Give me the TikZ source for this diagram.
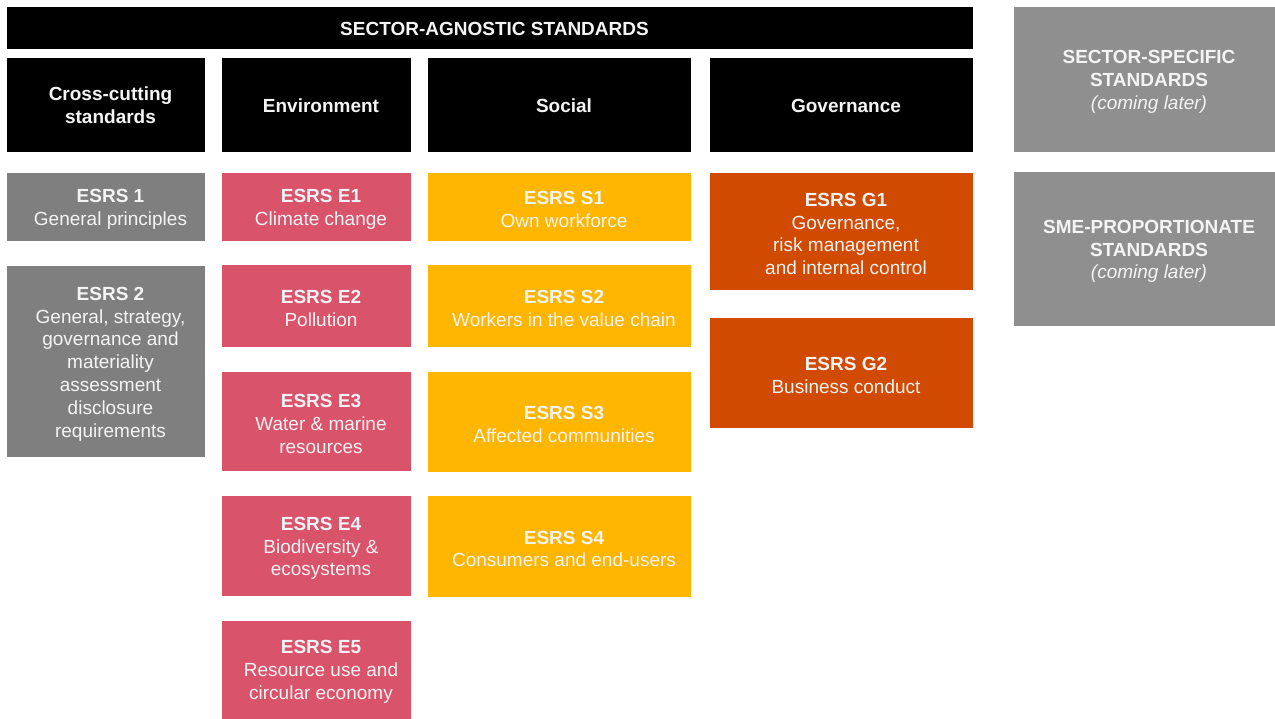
\documentclass[tikz,border=0pt]{standalone}
\usepackage{fontspec}
\setmainfont{Liberation Sans}
\definecolor{esrsgray}{HTML}{7F7F7F}
\definecolor{lightgray2}{HTML}{8F8F8F}
\definecolor{esrspink}{HTML}{D9536B}
\definecolor{esrsyellow}{HTML}{FFB600}
\definecolor{esrsorange}{HTML}{D04A02}
\definecolor{softwhite}{HTML}{F4F4F4}
\tikzset{
  fillbox/.style={inner sep=0pt, draw=none},
  txt/.style={inner sep=0pt, align=center, text=softwhite, xshift=4.5pt, yshift=-2.5pt,
    font=\fontsize{19}{22.8}\selectfont},
  hdrtxt/.style={txt, yshift=2pt, font=\fontsize{19}{22.8}\selectfont\bfseries},
}
% #1 name, #2 cx, #3 cy, #4 width, #5 height, #6 colour, #7 text style, #8 text
\newcommand\esrsbox[8]{%
  \node[fillbox, fill=#6, minimum width=#4pt, minimum height=#5pt] (#1) at (#2,#3) {};
  \node[#7] (#1-text) at (#1.center) {#8};
}
\begin{document}
\begin{tikzpicture}[x=1pt,y=-1pt]
\useasboundingbox[fill=white] (0,0) rectangle (1275,718);
% top banner
\esrsbox{banner}{490}{28}{966}{42}{black}{hdrtxt}{SECTOR-AGNOSTIC STANDARDS}
% column headers
\esrsbox{hcross}{106}{105}{198}{94}{black}{hdrtxt}{Cross-cutting\\standards}
\esrsbox{henv}{316.5}{105}{189}{94}{black}{hdrtxt}{Environment}
\esrsbox{hsoc}{559.5}{105}{263}{94}{black}{hdrtxt}{Social}
\esrsbox{hgov}{841.5}{105}{263}{94}{black}{hdrtxt}{Governance}
% right column
\esrsbox{sector}{1144.5}{79.5}{261}{145}{lightgray2}{txt}{\textbf{SECTOR-SPECIFIC}\\\textbf{STANDARDS}\\\textit{(coming later)}}
\esrsbox{sme}{1144.5}{249}{261}{154}{lightgray2}{txt}{\textbf{SME-PROPORTIONATE}\\\textbf{STANDARDS}\\\textit{(coming later)}}
% cross-cutting
\esrsbox{esrs1}{106}{207}{198}{68}{esrsgray}{txt}{\textbf{ESRS 1}\\General principles}
\esrsbox{esrs2}{106}{361.5}{198}{191}{esrsgray}{txt}{\textbf{ESRS 2}\\General, strategy,\\governance and\\materiality\\assessment\\disclosure\\requirements}
% environment
\esrsbox{e1}{316.5}{207}{189}{68}{esrspink}{txt}{\textbf{ESRS E1}\\Climate change}
\esrsbox{e2}{316.5}{306}{189}{82}{esrspink}{txt}{\textbf{ESRS E2}\\Pollution}
\esrsbox{e3}{316.5}{421.5}{189}{99}{esrspink}{txt}{\textbf{ESRS E3}\\Water \& marine\\resources}
\esrsbox{e4}{316.5}{546}{189}{100}{esrspink}{txt}{\textbf{ESRS E4}\\Biodiversity \&\\ecosystems}
\esrsbox{e5}{316.5}{669.5}{189}{98}{esrspink}{txt}{\textbf{ESRS E5}\\Resource use and\\circular economy}
% social
\esrsbox{s1}{559.5}{207}{263}{68}{esrsyellow}{txt}{\textbf{ESRS S1}\\Own workforce}
\esrsbox{s2}{559.5}{306}{263}{82}{esrsyellow}{txt}{\textbf{ESRS S2}\\Workers in the value chain}
\esrsbox{s3}{559.5}{422}{263}{100}{esrsyellow}{txt}{\textbf{ESRS S3}\\Affected communities}
\esrsbox{s4}{559.5}{546.5}{263}{101}{esrsyellow}{txt}{\textbf{ESRS S4}\\Consumers and end-users}
% governance
\esrsbox{g1}{841.5}{231.5}{263}{117}{esrsorange}{txt}{\textbf{ESRS G1}\\Governance,\\risk management\\and internal control}
\esrsbox{g2}{841.5}{373}{263}{110}{esrsorange}{txt}{\textbf{ESRS G2}\\Business conduct}
\end{tikzpicture}
\end{document}
